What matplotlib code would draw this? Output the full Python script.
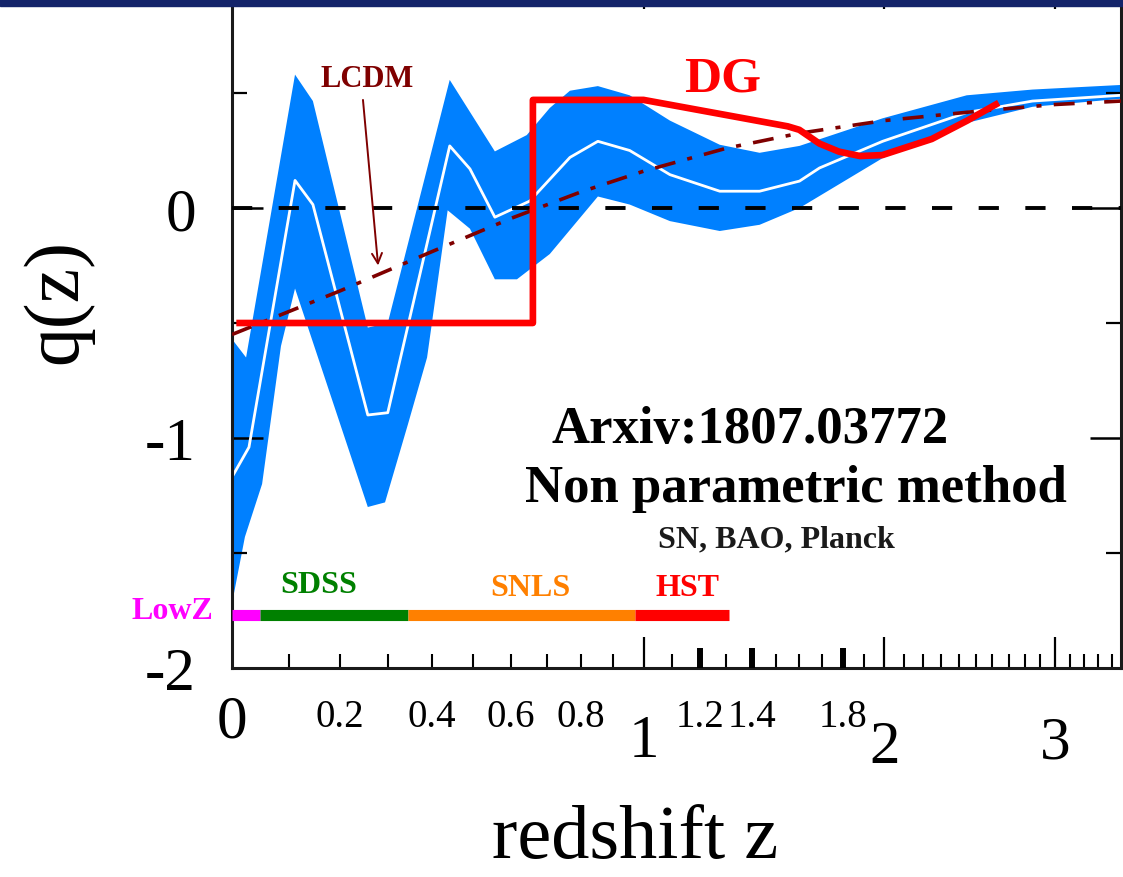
import numpy as np
import matplotlib
matplotlib.use("Agg")
import matplotlib.pyplot as plt
from matplotlib.patches import Rectangle

# --- data ---------------------------------------------------------------
# non-parametric reconstruction of q(z): 1-sigma band and median
z_upper = [0.0, 0.024, 0.112, 0.146, 0.257, 0.300, 0.443, 0.557, 0.643, 0.708,
           0.767, 0.852, 0.954, 1.091, 1.274, 1.432, 1.601, 1.992, 2.447, 2.851, 3.47]
q_upper = [-0.57, -0.65, 0.58, 0.465, -0.52, -0.50, 0.557, 0.246, 0.317, 0.435,
           0.51, 0.53, 0.49, 0.38, 0.275, 0.24, 0.27, 0.39, 0.49, 0.515, 0.535]

z_lower = [0.0, 0.022, 0.052, 0.086, 0.112, 0.257, 0.294, 0.345, 0.389, 0.438,
           0.493, 0.557, 0.616, 0.708, 0.852, 0.954, 1.091, 1.274, 1.432, 1.601,
           1.992, 2.447, 2.851, 3.47]
q_lower = [-1.72, -1.43, -1.20, -0.60, -0.35, -1.30, -1.28, -0.94, -0.65, -0.01,
           -0.09, -0.31, -0.31, -0.20, 0.05, 0.015, -0.057, -0.10, -0.073, 0.0,
           0.217, 0.37, 0.44, 0.475]

z_median = [0.0, 0.029, 0.112, 0.146, 0.257, 0.300, 0.443, 0.493, 0.557, 0.651,
            0.767, 0.852, 0.954, 1.091, 1.274, 1.432, 1.601, 1.690, 1.992, 2.447,
            2.851, 3.47]
q_median = [-1.17, -1.04, 0.12, 0.015, -0.90, -0.89, 0.27, 0.17, -0.04, 0.03,
            0.22, 0.29, 0.25, 0.145, 0.073, 0.073, 0.117, 0.174, 0.29, 0.415,
            0.465, 0.49]

# LCDM curve
z_lcdm = [0.0, 0.2, 0.4, 0.6, 0.8, 1.0, 1.3, 1.6, 2.0, 2.5, 3.0, 3.47]
q_lcdm = [-0.55, -0.36, -0.19, -0.045, 0.07, 0.16, 0.26, 0.325, 0.38, 0.42, 0.45, 0.465]

# DG model
z_dg = [0.013, 0.66, 0.66, 1.0, 1.55, 1.60, 1.69, 1.78, 1.88, 1.99, 2.25, 2.45, 2.62]
q_dg = [-0.5, -0.5, 0.47, 0.47, 0.355, 0.34, 0.28, 0.245, 0.226, 0.23, 0.30, 0.38, 0.45]

# supernova survey redshift coverage
survey_names = ["LowZ", "SDSS", "SNLS", "HST"]
survey_start = [0.0, 0.048, 0.345, 0.97]
survey_end = [0.048, 0.345, 0.97, 1.31]
survey_colors = ["#ff00ff", "#008000", "#ff8000", "#ff0000"]
survey_level = -1.77

# axis ticks / labels
x_small_labels = [0.2, 0.4, 0.6, 0.8, 1.2, 1.4, 1.8]
x_big_labels = [0, 1, 2, 3]
x_bold_ticks = [1.2, 1.4, 1.8]
y_major = [-2, -1, 0]
y_minor = [-1.5, -0.5, 0.5]

# --- figure -----------------------------------------------------------------
W, H = 1123, 878
SERIF = "Liberation Serif"


def px(x, y):
    """pixel position -> figure fraction"""
    return x / W, 1 - y / H


def fwd(z):
    with np.errstate(invalid="ignore", divide="ignore"):
        return np.log10(1 + np.asarray(z, dtype=float))


def inv(u):
    return 10 ** np.asarray(u, dtype=float) - 1


fig = plt.figure(figsize=(W / 100, H / 100), dpi=100)
ax = fig.add_axes([232 / W, (H - 669) / H, 889 / W, 690 / H])
ax.set_xscale("function", functions=(fwd, inv))
ax.set_xlim(0, 3.47)
ax.set_ylim(-2, 1)

band_z = np.concatenate([z_upper, z_lower[::-1]])
band_q = np.concatenate([q_upper, q_lower[::-1]])
ax.fill(band_z, band_q, color="#0080ff", lw=0, zorder=1)
ax.plot(z_median, q_median, color="white", lw=2.0, zorder=2)

ax.axhline(0, color="black", lw=2.8, dashes=(5.2, 6.8), zorder=3)
ax.plot(z_lcdm, q_lcdm, color="#7f0000", lw=2.6, dashes=(5.8, 3.4, 1.4, 3.4), zorder=4)
ax.plot(z_dg, q_dg, color="#ff0000", lw=4.8, zorder=5)

for name, z0, z1, c in zip(survey_names, survey_start, survey_end, survey_colors):
    ax.plot([z0, z1], [survey_level, survey_level], color=c, lw=8,
            solid_capstyle="butt", clip_on=False, zorder=6)

# extra bold ticks
ax.vlines(x_bold_ticks, -2, -2 + 20 / 230, color="black", lw=4.3, zorder=6)

# ticks
minor_x = [round(0.1 * i, 1) for i in range(1, 35) if i % 10]
ax.set_xticks([1, 2, 3])
ax.set_xticks(minor_x, minor=True)
ax.tick_params(axis="x", which="both", direction="in", top=True, bottom=True,
               labelbottom=False, labeltop=False)
ax.tick_params(axis="x", which="major", length=22, width=1.6)
ax.tick_params(axis="x", which="minor", length=10, width=1.5)

ax.set_yticks(y_major)
ax.set_yticks(y_minor, minor=True)
ax.set_yticklabels([str(v) for v in y_major], fontsize=44, family=SERIF)
ax.tick_params(axis="y", which="both", direction="in", left=True, right=True, pad=26)
ax.tick_params(axis="y", which="major", length=22, width=1.8)
ax.tick_params(axis="y", which="minor", length=11, width=1.6)
for sp in ax.spines.values():
    sp.set_linewidth(2.2)
    sp.set_color("#1a1a1a")

# x tick labels drawn by hand (two sizes, two rows)
xt = ax.get_xaxis_transform()
for v in x_small_labels:
    ax.text(v, (669 - 727) / 690, f"{v:g}", transform=xt, ha="center", va="baseline",
            fontsize=28, family=SERIF)
big_base = {0: 738, 1: 757, 2: 763, 3: 759}
for v in x_big_labels:
    ax.text(v, (669 - big_base[v]) / 690, str(v), transform=xt, ha="center",
            va="baseline", fontsize=44, family=SERIF)

# annotations
ax.annotate("LCDM", xy=(0.279, -0.25), xycoords="data",
            xytext=px(367, 87), textcoords="figure fraction",
            ha="center", va="baseline", fontsize=22, fontweight="bold",
            family=SERIF, color="#7f0000",
            arrowprops=dict(arrowstyle="->", color="#7f0000", lw=1.4,
                            mutation_scale=18, shrinkA=3, shrinkB=0,
                            relpos=(0.45, 0)))
fig.text(*px(723, 92), "DG", ha="center", va="baseline", fontsize=37,
         fontweight="bold", family=SERIF, color="#ff0000")
fig.text(*px(750, 443), "Arxiv:1807.03772", ha="center", va="baseline",
         fontsize=38, fontweight="bold", family=SERIF, color="black")
fig.text(*px(796, 502), "Non parametric method", ha="center", va="baseline",
         fontsize=38, fontweight="bold", family=SERIF, color="black")
fig.text(*px(776, 547), "SN, BAO, Planck", ha="center", va="baseline",
         fontsize=23, fontweight="bold", family=SERIF, color="#1a1a1a")

survey_label_pos = [(172, 619), (319, 593), (530, 596), (687, 596)]
for name, c, (lx, ly) in zip(survey_names, survey_colors, survey_label_pos):
    fig.text(*px(lx, ly), name, ha="center", va="baseline", fontsize=23,
             fontweight="bold", family=SERIF, color=c)

fig.text(*px(58, 302), "q(z)", rotation=90, ha="center", va="center",
         fontsize=56, family=SERIF)
fig.text(*px(635, 858), "redshift z", ha="center", va="baseline",
         fontsize=55, family=SERIF)

# dark slide band along the top edge
fig.patches.append(Rectangle((0, 1 - 7 / H), 1, 7 / H, transform=fig.transFigure,
                             color="#14246a", zorder=10))

fig.savefig("out.png", dpi=100)
